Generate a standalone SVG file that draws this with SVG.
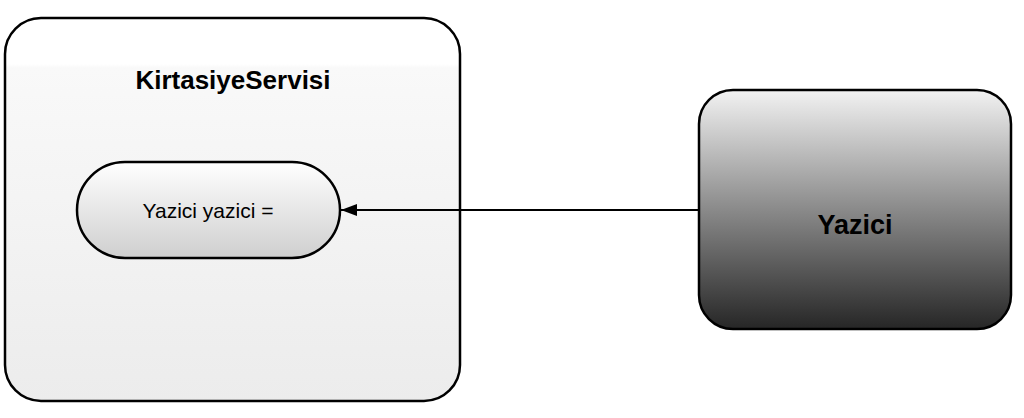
<svg xmlns="http://www.w3.org/2000/svg" width="1024" height="418" viewBox="0 0 1024 418">
<style>
.node{stroke:#000;stroke-width:2.5}
.t{font-family:"Liberation Sans",Arial,sans-serif;fill:#000;text-anchor:middle}
.b{font-weight:bold}
.edge{stroke:#000;stroke-width:2;fill:none}
</style>
<defs>
<linearGradient id="gc" x1="0" y1="0" x2="0" y2="1">
<stop offset="0" stop-color="#ffffff"/>
<stop offset="0.12" stop-color="#ffffff"/>
<stop offset="0.13" stop-color="#f9f9f9"/>
<stop offset="1" stop-color="#ececec"/>
</linearGradient>
<linearGradient id="go" x1="0" y1="0" x2="0" y2="1">
<stop offset="0" stop-color="#ffffff"/>
<stop offset="1" stop-color="#cfcfcf"/>
</linearGradient>
<linearGradient id="gy" x1="0" y1="0" x2="0" y2="1">
<stop offset="0" stop-color="#f2f2f2"/>
<stop offset="0.5" stop-color="#8a8a8a"/>
<stop offset="1" stop-color="#262626"/>
</linearGradient>
<marker id="arrh" viewBox="0 0 16 12" refX="16" refY="6" markerWidth="16" markerHeight="12" markerUnits="userSpaceOnUse" orient="auto">
<path d="M0,0 L16,6 L0,12 z" fill="#000"/>
</marker>
</defs>
<g id="KirtasiyeServisi">
<rect class="node" x="5" y="18" width="455" height="383" rx="36" ry="36" fill="url(#gc)"/>
<text class="t b" x="233" y="89" font-size="26">KirtasiyeServisi</text>
</g>
<g id="yazici-field">
<rect class="node" x="77" y="162" width="263" height="96" rx="48" ry="48" fill="url(#go)"/>
<text class="t" x="208" y="218" font-size="21">Yazici yazici =</text>
</g>
<g id="Yazici">
<rect class="node" x="699" y="90" width="312" height="239" rx="34" ry="34" fill="url(#gy)"/>
<text class="t b" x="855" y="234" font-size="27">Yazici</text>
</g>
<g id="connectors">
<line class="edge" x1="699" y1="210" x2="341" y2="210" marker-end="url(#arrh)"/>
</g>
</svg>
